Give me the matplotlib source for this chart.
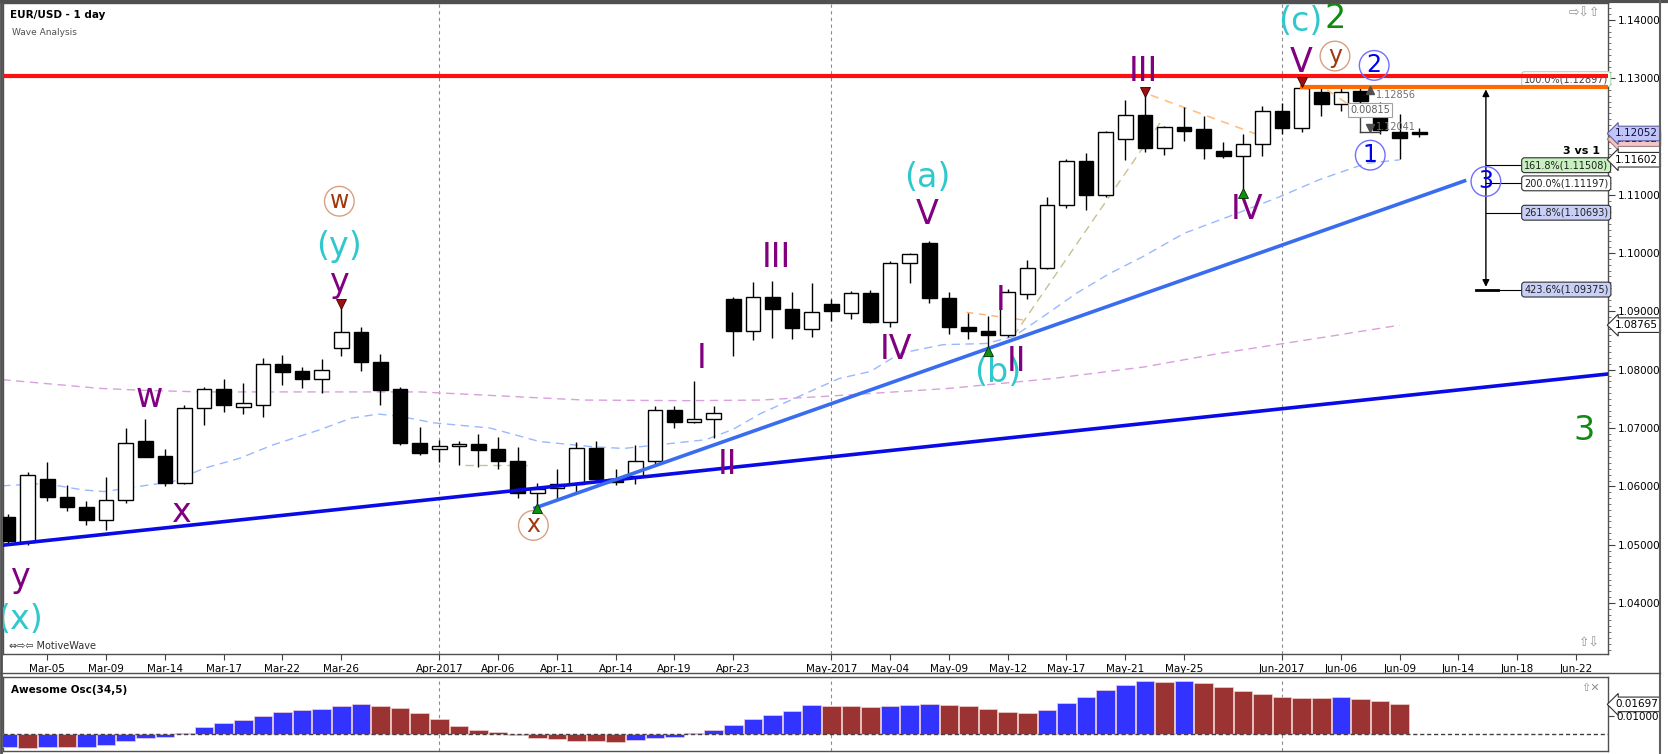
import numpy as np
import matplotlib
matplotlib.use("Agg")
import matplotlib.pyplot as plt
from matplotlib.transforms import blended_transform_factory
from matplotlib.ticker import MultipleLocator, FormatStrFormatter

plt.rcParams['font.family'] = ['DejaVu Sans']

# ---------------------------------------------------------------
# DATA  (EUR/USD daily bars, bar index 0 = Mar-02)
# ---------------------------------------------------------------
OPEN = [1.0548, 1.0505, 1.0612, 1.0582, 1.0565, 1.0542, 1.0577, 1.0677, 1.0652, 1.0605,
        1.0734, 1.0767, 1.0736, 1.0740, 1.0810, 1.0798, 1.0784, 1.0838, 1.0864, 1.0814,
        1.0767, 1.0674, 1.0664, 1.0669, 1.0673, 1.0664, 1.0644, 1.0588, 1.0598, 1.0604,
        1.0666, 1.0613, 1.0618, 1.0644, 1.0731, 1.0711, 1.0716, 1.0921, 1.0867, 1.0924,
        1.0904, 1.0870, 1.0913, 1.0898, 1.0932, 1.0882, 1.0983, 1.1018, 1.0923, 1.0874,
        1.0866, 1.0860, 1.0930, 1.0974, 1.1083, 1.1158, 1.1100, 1.1195, 1.1237, 1.1180,
        1.1216, 1.1213, 1.1175, 1.1166, 1.1188, 1.1244, 1.1214, 1.1277, 1.1255, 1.1278,
        1.1256, 1.1208, 1.1207]
HIGH = [1.0553, 1.0625, 1.0641, 1.0602, 1.0575, 1.0616, 1.0700, 1.0715, 1.0664, 1.0740,
        1.0771, 1.0784, 1.0777, 1.0820, 1.0825, 1.0805, 1.0819, 1.0906, 1.0873, 1.0827,
        1.0771, 1.0701, 1.0680, 1.0678, 1.0689, 1.0684, 1.0668, 1.0606, 1.0629, 1.0676,
        1.0678, 1.0629, 1.0671, 1.0737, 1.0737, 1.0780, 1.0738, 1.0925, 1.0950, 1.0952,
        1.0934, 1.0948, 1.0922, 1.0935, 1.0937, 1.0987, 1.1000, 1.1020, 1.0933, 1.0897,
        1.0893, 1.0938, 1.0988, 1.1096, 1.1161, 1.1171, 1.1210, 1.1262, 1.1270, 1.1218,
        1.1250, 1.1235, 1.1191, 1.1205, 1.1253, 1.1257, 1.1286, 1.1284, 1.1284, 1.1286,
        1.1260, 1.1238, 1.1214]
LOW = [1.0500, 1.0500, 1.0575, 1.0557, 1.0534, 1.0525, 1.0571, 1.0650, 1.0600, 1.0604,
       1.0705, 1.0727, 1.0724, 1.0719, 1.0774, 1.0768, 1.0760, 1.0824, 1.0798, 1.0740,
       1.0671, 1.0654, 1.0642, 1.0636, 1.0634, 1.0629, 1.0580, 1.0570, 1.0577, 1.0589,
       1.0608, 1.0602, 1.0604, 1.0638, 1.0700, 1.0709, 1.0683, 1.0823, 1.0851, 1.0855,
       1.0852, 1.0857, 1.0884, 1.0887, 1.0880, 1.0873, 1.0948, 1.0914, 1.0861, 1.0852,
       1.0838, 1.0856, 1.0921, 1.0973, 1.1078, 1.1074, 1.1097, 1.1160, 1.1174, 1.1168,
       1.1192, 1.1162, 1.1164, 1.1110, 1.1166, 1.1204, 1.1207, 1.1236, 1.1243, 1.1238,
       1.1204, 1.1162, 1.1199]
CLOSE = [1.0506, 1.0620, 1.0582, 1.0565, 1.0542, 1.0577, 1.0674, 1.0651, 1.0605, 1.0734,
         1.0767, 1.0740, 1.0743, 1.0810, 1.0797, 1.0784, 1.0800, 1.0864, 1.0813, 1.0765,
         1.0674, 1.0658, 1.0669, 1.0673, 1.0662, 1.0644, 1.0588, 1.0595, 1.0604, 1.0666,
         1.0613, 1.0608, 1.0644, 1.0731, 1.0711, 1.0716, 1.0725, 1.0867, 1.0925, 1.0904,
         1.0871, 1.0899, 1.0900, 1.0932, 1.0882, 1.0983, 1.0998, 1.0923, 1.0873, 1.0866,
         1.0860, 1.0933, 1.0974, 1.1083, 1.1158, 1.1100, 1.1207, 1.1237, 1.1180, 1.1216,
         1.1210, 1.1181, 1.1166, 1.1188, 1.1244, 1.1214, 1.1284, 1.1255, 1.1277, 1.1261,
         1.1211, 1.1198, 1.1205]

# Awesome oscillator (34,5), one value per bar up to Jun-09
AO = [-0.0075, -0.0081, -0.0075, -0.0077, -0.0074, -0.0067, -0.0042, -0.0027, -0.0017, 0.0004,
      0.0040, 0.0060, 0.0079, 0.0104, 0.0125, 0.0137, 0.0141, 0.0158, 0.0170, 0.0158,
      0.0146, 0.0119, 0.0083, 0.0044, 0.0019, 0.0008, -0.0006, -0.0023, -0.0033, -0.0042,
      -0.0043, -0.0050, -0.0039, -0.0027, -0.0017, 0.0003, 0.0019, 0.0050, 0.0083, 0.0110,
      0.0133, 0.0164, 0.0163, 0.0158, 0.0152, 0.0158, 0.0164, 0.0170, 0.0164, 0.0158,
      0.0143, 0.0125, 0.0118, 0.0137, 0.0175, 0.0212, 0.0250, 0.0281, 0.0302, 0.0300,
      0.0303, 0.0291, 0.0272, 0.0245, 0.0227, 0.0210, 0.0206, 0.0205, 0.0212, 0.0200,
      0.0191, 0.0170]

# moving averages (read at sample bars)
MA_FAST_X = [-0.3, 1.85, 3.8, 4.9, 6.9, 8.4, 10, 11.8, 13.5, 15.9, 17.5, 18.9, 20, 21.7,
             24.6, 27.1, 29.8, 31.4, 33.1, 35.6, 37, 38.4, 40.4, 42.4, 44, 45.5, 47.7,
             49.9, 51.3, 52.8, 54.5, 56.2, 57.9, 60, 62.3, 64.9, 66.9, 69.3, 71]
MA_FAST_Y = [1.0601, 1.0605, 1.0594, 1.0591, 1.0601, 1.0608, 1.0631, 1.0648, 1.0671, 1.0697,
             1.0717, 1.0724, 1.0720, 1.0709, 1.0700, 1.0677, 1.0668, 1.0665, 1.0671, 1.0680,
             1.0698, 1.0725, 1.0755, 1.0785, 1.0797, 1.0828, 1.0843, 1.0845, 1.0857, 1.0891,
             1.0931, 1.0965, 1.0994, 1.1034, 1.1063, 1.1097, 1.1126, 1.1154, 1.1160]
MA_SLOW_X = [-0.3, 4.7, 6.7, 9.8, 15, 21, 29.4, 34.6, 38.4, 42, 48, 53.3, 58, 61.8, 67, 71]
MA_SLOW_Y = [1.0783, 1.0768, 1.0765, 1.0762, 1.0762, 1.0762, 1.0748, 1.0747, 1.0748, 1.0755,
             1.0768, 1.0785, 1.0805, 1.0828, 1.0855, 1.08765]

# trend lines
TREND_LOW_X = [-0.3, 81.7]
TREND_LOW_Y = [1.0499, 1.0793]
TREND_MID_X = [26.8, 74.4]
TREND_MID_Y = [1.0562, 1.1125]
RESIST_RED = 1.1304
RESIST_ORANGE = 1.12856

# fib projection
FIB_TOP = 1.12856
FIB_LEVELS = [1.11508, 1.11197, 1.10693, 1.09375]
FIB_TEXT = ["161.8%(1.11508)", "200.0%(1.11197)", "261.8%(1.10693)", "423.6%(1.09375)"]
FIB_FACE = ["#c8f0c0", "#ffffff", "#c8d0f8", "#c8d0f8"]

# x axis
TICK_POS = [2, 5, 8, 11, 14, 17, 22, 25, 28, 31, 34, 37, 42, 45, 48, 51, 54, 57, 60,
            65, 68, 71, 74, 77, 80]
TICK_LAB = ["Mar-05", "Mar-09", "Mar-14", "Mar-17", "Mar-22", "Mar-26", "Apr-2017", "Apr-06",
            "Apr-11", "Apr-14", "Apr-19", "Apr-23", "May-2017", "May-04", "May-09", "May-12",
            "May-17", "May-21", "May-25", "Jun-2017", "Jun-06", "Jun-09", "Jun-14", "Jun-18",
            "Jun-22"]
MONTH_START = [22, 42, 65]

PURPLE = "#800080"
CYAN = "#30c8cc"
BROWN = "#a0380c"
GREEN = "#108a10"
BLUE = "#0000ee"

# wave labels: text, bar, price, colour, size, circled
WAVES = [
    ("y", 0.6, 1.0444, PURPLE, 24, False),
    ("(x)", 0.6, 1.0371, CYAN, 24, False),
    ("x", 8.8, 1.0555, PURPLE, 24, False),
    ("w", 7.2, 1.0753, PURPLE, 24, False),
    ("y", 16.9, 1.0950, PURPLE, 24, False),
    ("(y)", 16.9, 1.1012, CYAN, 24, False),
    ("w", 16.9, 1.1089, BROWN, 17, True),
    ("x", 26.8, 1.0533, BROWN, 17, True),
    ("I", 35.4, 1.0820, PURPLE, 24, False),
    ("II", 36.7, 1.0638, PURPLE, 24, False),
    ("III", 39.2, 1.0993, PURPLE, 24, False),
    ("IV", 45.3, 1.0835, PURPLE, 24, False),
    ("V", 46.9, 1.1066, PURPLE, 24, False),
    ("(a)", 46.9, 1.1130, CYAN, 24, False),
    ("(b)", 50.5, 1.0795, CYAN, 24, False),
    ("I", 50.65, 1.0919, PURPLE, 24, False),
    ("II", 51.45, 1.0815, PURPLE, 24, False),
    ("III", 57.9, 1.1312, PURPLE, 24, False),
    ("IV", 63.2, 1.1074, PURPLE, 24, False),
    ("V", 65.95, 1.1327, PURPLE, 24, False),
    ("(c)", 65.95, 1.1397, CYAN, 24, False),
    ("2", 67.7, 1.1403, GREEN, 24, False),
    ("y", 67.7, 1.1338, BROWN, 17, True),
    ("2", 69.7, 1.1322, BLUE, 17, True),
    ("1", 69.5, 1.1168, BLUE, 17, True),
    ("3", 75.4, 1.1123, BLUE, 17, True),
    ("3", 80.4, 1.0695, GREEN, 24, False),
]
PEAK_MARKS = [(17, 1.0913), (58, 1.1277), (66, 1.1294)]
TROUGH_MARKS = [(27, 1.0563), (50, 1.0833), (63, 1.1103)]

# ---------------------------------------------------------------
# LAYOUT
# ---------------------------------------------------------------
W, H = 1668, 754
fig = plt.figure(figsize=(W / 100, H / 100), dpi=100)


def rect(x0, y0, x1, y1):
    return [x0 / W, 1 - y1 / H, (x1 - x0) / W, (y1 - y0) / H]


ax = fig.add_axes(rect(3, 3, 1608, 654))
ao = fig.add_axes(rect(3, 677, 1608, 751))
XL = (-0.26, 81.63)

# ---------------------------------------------------------------
# MAIN PANEL
# ---------------------------------------------------------------
ax.set_xlim(*XL)
ax.set_ylim(1.03125, 1.1429)
for m in MONTH_START:
    ax.axvline(m, color="#8c8c8c", ls=(0, (3, 3)), lw=0.8, zorder=1)

ax.plot(MA_SLOW_X, MA_SLOW_Y, color="#d8a0dc", ls=(0, (6, 4)), lw=1, zorder=2)
ax.plot(MA_FAST_X, MA_FAST_Y, color="#9ab8ff", ls=(0, (6, 4)), lw=1, zorder=2)

idx = np.arange(len(OPEN))
o, h, l, c = map(np.array, (OPEN, HIGH, LOW, CLOSE))
ax.vlines(idx, l, h, color="black", lw=1, zorder=3)
body_lo = np.minimum(o, c)
body_h = np.maximum(np.abs(c - o), 0.00012)
ax.bar(idx, body_h, bottom=body_lo, width=0.74,
       color=np.where(c >= o, "white", "black"), edgecolor="black", lw=1, zorder=4)

# helper lines
ax.plot([48.9, 51.8], [1.08986, 1.08854], color="#ffb070", ls=(0, (5, 4)), lw=1, zorder=2)
ax.plot([58.3, 64.5], [1.1271, 1.1194], color="#ffc080", ls=(0, (5, 4)), lw=1.2, zorder=2)
ax.plot([67.3, 68.3], [1.1280, 1.1257], color="#ffc080", ls=(0, (5, 4)), lw=1.2, zorder=5)
ax.plot([51.3, 58.8], [1.0858, 1.1225], color="#c8c090", ls=(0, (6, 4)), lw=1, zorder=2)
ax.plot([23.3, 26.5], [1.0637, 1.0637], color="#c8c090", ls=(0, (6, 4)), lw=1, zorder=2)

ax.plot(TREND_LOW_X, TREND_LOW_Y, color="#0a0ae6", lw=2.6, zorder=5, solid_capstyle="butt")
ax.plot(TREND_MID_X, TREND_MID_Y, color="#3a6cf0", lw=2.6, zorder=5, solid_capstyle="butt")

# fib projection tool
ax.text(77.35, 1.12985, "100.0%(1.12897)", fontsize=7, ha="left", va="center", color="#404040",
        bbox=dict(boxstyle="round,pad=0.25,rounding_size=0.3", fc="white", ec="#a0e0a0", lw=0.8), zorder=6)
ax.axhline(RESIST_RED, color="#ff1010", lw=3, zorder=7)
ax.plot([65.9, XL[1]], [RESIST_ORANGE, RESIST_ORANGE], color="#ff6a00", lw=3, zorder=7,
        solid_capstyle="butt")
ax.annotate("", xy=(75.4, FIB_TOP), xytext=(75.4, FIB_LEVELS[-1]),
            arrowprops=dict(arrowstyle="<|-|>", color="black", lw=1, mutation_scale=10), zorder=6)
ax.plot([74.9, 75.9], [FIB_TOP, FIB_TOP], color="black", lw=1.2, zorder=6)
ax.plot([74.9, 76.0], [FIB_LEVELS[-1], FIB_LEVELS[-1]], color="black", lw=2, zorder=6)
for lev, txt, fc in zip(FIB_LEVELS, FIB_TEXT, FIB_FACE):
    ax.plot([75.4, 77.3], [lev, lev], color="black", lw=0.8, zorder=6)
    ax.text(77.35, lev, txt, fontsize=7, ha="left", va="center", color="#202020",
            bbox=dict(boxstyle="round,pad=0.25,rounding_size=0.3", fc=fc, ec="#303030", lw=0.8),
            zorder=6)
ax.text(81.2, 1.1176, "3 vs 1", fontsize=8, fontweight="bold", ha="right", va="center", zorder=6)

# measuring tool
ax.text(69.8, 1.12714, "1.12856", fontsize=7, color="#707070", ha="left", va="center", zorder=8)
ax.text(69.8, 1.1217, "1.12041", fontsize=7, color="#707070", ha="left", va="center", zorder=8)
ax.plot([69.0, 70.0], [1.1207, 1.1207], color="#404040", lw=1, zorder=8)
ax.plot([69.0, 69.0], [1.1207, 1.1245], color="#404040", lw=1, zorder=8)
ax.plot([69.5], [1.1279], marker="^", color="#505050", ms=6, zorder=8)
ax.plot([69.5], [1.1214], marker="v", color="#505050", ms=6, zorder=8)
ax.text(69.5, 1.12451, "0.00815", fontsize=7, color="#606060", ha="center", va="center", zorder=9,
        bbox=dict(boxstyle="square,pad=0.2", fc="white", ec="#a0a0a0", lw=0.8))

# wave labels
for txt, xi, yp, col, size, circ in WAVES:
    kw = {}
    if circ:
        ec = "#d8a080" if col == BROWN else "#7070ff"
        kw["bbox"] = dict(boxstyle="circle,pad=0.12", fc="none", ec=ec, lw=1)
    ax.text(xi, yp, txt, color=col, fontsize=size, ha="center", va="center", zorder=9, **kw)
for xi, yp in PEAK_MARKS:
    ax.plot(xi, yp, marker="v", ms=7, color="#a01010", mec="#300000", mew=0.6, zorder=9)
for xi, yp in TROUGH_MARKS:
    ax.plot(xi, yp, marker="^", ms=7, color="#109010", mec="#003000", mew=0.6, zorder=9)

# axes styling
ax.yaxis.tick_right()
ax.yaxis.set_major_locator(MultipleLocator(0.01))
ax.yaxis.set_minor_locator(MultipleLocator(0.001))
ax.yaxis.set_major_formatter(FormatStrFormatter("%.5f"))
ax.tick_params(axis="y", which="major", length=5, labelsize=7.5, pad=2, color="#404040")
ax.tick_params(axis="y", which="minor", length=2.5, color="#606060")
ax.set_xticks(TICK_POS)
ax.set_xticklabels(TICK_LAB)
ax.tick_params(axis="x", length=4, labelsize=7.5, pad=3, color="#404040")
for s in ax.spines.values():
    s.set_color("#505050")
    s.set_linewidth(1)

# right side value tags
tr = blended_transform_factory(ax.transAxes, ax.transData)
ax.text(1.0045, 1.11955, "1.11962", transform=tr, fontsize=7.5, ha="left", va="center",
        clip_on=False, zorder=10,
        bbox=dict(boxstyle="larrow,pad=0.22", fc="#f4c4c4", ec="#a08080", lw=0.8))
ax.text(1.0045, 1.12052, "1.12052", transform=tr, fontsize=7.5, ha="left", va="center",
        clip_on=False, zorder=11, color="#101040",
        bbox=dict(boxstyle="larrow,pad=0.22", fc="#c0c4f8", ec="#6060a0", lw=0.8))
ax.text(1.0045, 1.11602, "1.11602", transform=tr, fontsize=7.5, ha="left", va="center",
        clip_on=False, zorder=10,
        bbox=dict(boxstyle="larrow,pad=0.22", fc="white", ec="#303030", lw=0.8))
ax.text(1.0045, 1.08765, "1.08765", transform=tr, fontsize=7.5, ha="left", va="center",
        clip_on=False, zorder=10,
        bbox=dict(boxstyle="larrow,pad=0.22", fc="white", ec="#303030", lw=0.8))

ax.text(0.0045, 0.982, "EUR/USD - 1 day", transform=ax.transAxes, fontsize=7.5,
        fontweight="bold", ha="left", va="center")
ax.text(0.0055, 0.955, "Wave Analysis", transform=ax.transAxes, fontsize=6.5,
        color="#505050", ha="left", va="center")
ax.text(0.004, 0.013, "\u21d4\u21e8\u21e6 MotiveWave", transform=ax.transAxes, fontsize=7,
        color="#303030", ha="left", va="center")
ax.text(0.995, 0.985, "\u21e8\u21e9\u21e7", transform=ax.transAxes, fontsize=9,
        color="#909090", ha="right", va="center")
ax.text(0.995, 0.016, "\u21e7\u21e9", transform=ax.transAxes, fontsize=9,
        color="#909090", ha="right", va="center")

# ---------------------------------------------------------------
# AWESOME OSCILLATOR
# ---------------------------------------------------------------
ao.set_xlim(*XL)
ao.set_ylim(-0.0100, 0.0328)
ao_v = np.array(AO)
ao_col = np.where(np.diff(ao_v, prepend=ao_v[0] - 1) >= 0, "#3333ff", "#9b3333")
ao.bar(np.arange(len(AO)), ao_v, width=0.95, color=ao_col, edgecolor="#f0d0d0", lw=0.5, zorder=3)
ao.axhline(0, color="#404040", ls=(0, (3, 2)), lw=1, zorder=4)
for m in MONTH_START:
    ao.axvline(m, color="#8c8c8c", ls=(0, (3, 3)), lw=0.8, zorder=1)
ao.yaxis.tick_right()
ao.set_yticks([0.01])
ao.yaxis.set_major_formatter(FormatStrFormatter("%.5f"))
ao.tick_params(axis="y", length=4, labelsize=7.5, pad=2, color="#404040")
ao.set_xticks([])
for s in ao.spines.values():
    s.set_color("#505050")
    s.set_linewidth(1)
tr2 = blended_transform_factory(ao.transAxes, ao.transData)
ao.text(1.0045, 0.01697, "0.01697", transform=tr2, fontsize=7.5, ha="left", va="center",
        clip_on=False, zorder=10,
        bbox=dict(boxstyle="larrow,pad=0.22", fc="white", ec="#303030", lw=0.8))
ao.text(0.005, 0.82, "Awesome Osc(34,5)", transform=ao.transAxes, fontsize=7.5,
        fontweight="bold", ha="left", va="center")
ao.text(0.995, 0.85, "\u21e7\u2715", transform=ao.transAxes, fontsize=8,
        color="#909090", ha="right", va="center")

# frame lines round the whole chart
fig.add_artist(plt.Line2D([0, 1], [1 - 1 / H, 1 - 1 / H], color="#505050", lw=3))
fig.add_artist(plt.Line2D([1 / W, 1 / W], [0, 1], color="#505050", lw=2))
fig.add_artist(plt.Line2D([1660 / W, 1660 / W], [0, 1], color="#606060", lw=1.5))
fig.add_artist(plt.Line2D([0, 1660 / W], [1 - 673 / H, 1 - 673 / H], color="#505050", lw=1))

fig.savefig("out.png", dpi=100, facecolor="white")
